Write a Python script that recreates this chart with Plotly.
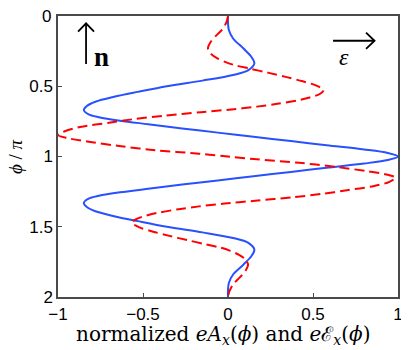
import plotly.graph_objects as go

# normalized vector potential e*A_x (blue, solid)
phi_A = [0.00, 0.05, 0.10, 0.16, 0.23, 0.29, 0.337, 0.385, 0.42, 0.46, 0.50, 0.54, 0.575,
         0.61, 0.64, 0.669, 0.70, 0.72, 0.745, 0.77, 0.80, 0.83, 0.86, 0.89, 0.92, 0.95,
         0.975, 1.00, 1.025, 1.05, 1.08, 1.11, 1.14, 1.17, 1.20, 1.23, 1.255, 1.28, 1.30,
         1.331, 1.36, 1.39, 1.425, 1.46, 1.50, 1.54, 1.58, 1.615, 1.663, 1.71, 1.77, 1.84,
         1.90, 1.95, 2.00]
eA_x = [0.000, 0.000, 0.005, 0.03, 0.09, 0.137, 0.155, 0.12, 0.03, -0.15, -0.36, -0.53, -0.67,
        -0.78, -0.83, -0.848, -0.82, -0.76, -0.635, -0.47, -0.27, -0.06, 0.15, 0.37, 0.58, 0.80,
        0.94, 1.00, 0.94, 0.80, 0.58, 0.37, 0.15, -0.06, -0.27, -0.47, -0.635, -0.76, -0.82,
        -0.848, -0.83, -0.78, -0.67, -0.53, -0.36, -0.15, 0.03, 0.12, 0.155, 0.137, 0.09, 0.03,
        0.005, 0.000, 0.000]

# normalized electric field e*E_x (red, dashed)
phi_E = [0.00, 0.04, 0.09, 0.14, 0.19, 0.23, 0.27, 0.30, 0.33, 0.35, 0.375, 0.405, 0.435,
         0.465, 0.495, 0.527, 0.555, 0.58, 0.60, 0.625, 0.645, 0.665, 0.685, 0.71, 0.735,
         0.76, 0.79, 0.82, 0.847, 0.87, 0.895, 0.925, 0.955, 0.98, 1.00,
         1.02, 1.045, 1.075, 1.105, 1.13, 1.15, 1.18, 1.21, 1.24, 1.265, 1.29, 1.315, 1.335,
         1.355, 1.375, 1.40, 1.42, 1.445, 1.47, 1.505, 1.535, 1.565, 1.595, 1.625, 1.65,
         1.67, 1.70, 1.73, 1.77, 1.81, 1.86, 1.91, 1.96, 2.00]
eE_x = [0.0, -0.008, -0.03, -0.07, -0.105, -0.118, -0.10, -0.065, -0.01, 0.04, 0.13, 0.24, 0.345,
        0.44, 0.52, 0.562, 0.54, 0.48, 0.41, 0.29, 0.17, 0.02, -0.16, -0.38, -0.56,
        -0.70, -0.87, -0.96, -1.0, -0.94, -0.82, -0.64, -0.43, -0.17, 0.0,
        0.17, 0.42, 0.64, 0.82, 0.94, 0.985, 0.95, 0.86, 0.70, 0.56, 0.38, 0.16, -0.02,
        -0.17, -0.29, -0.41, -0.48, -0.54, -0.565, -0.52, -0.44, -0.345, -0.24, -0.13, -0.04,
        0.01, 0.065, 0.10, 0.118, 0.105, 0.07, 0.03, 0.008, 0.0]

x_ticks = [-1, -0.5, 0, 0.5, 1]
x_labels = ["\u22121", "\u22120.5", "0", "0.5", "1"]
y_ticks = [0, 0.5, 1, 1.5, 2]
y_labels = ["0", "0.5", "1", "1.5", "2"]

fig = go.Figure()
fig.add_trace(go.Scatter(x=eA_x, y=phi_A, mode="lines",
                         line=dict(color="rgb(40,80,255)", width=2, shape="spline", smoothing=0.9)))
fig.add_trace(go.Scatter(x=eE_x, y=phi_E, mode="lines",
                         line=dict(color="rgb(255,0,0)", width=2, dash="10px,5px",
                                   shape="spline", smoothing=0.9)))

tick_font = dict(family="Liberation Sans", size=17, color="black")
axis_style = dict(showgrid=False, zeroline=False, showline=True, mirror=True, automargin=False,
                  linecolor="#4a4a4a", linewidth=1.5, ticks="inside", ticklen=4,
                  tickcolor="#4a4a4a", tickfont=tick_font)

fig.update_xaxes(range=[-1, 1], tickvals=x_ticks, ticktext=x_labels, ticklabelstandoff=1, **axis_style)
# the top "0" label sits too close to the page edge for plotly to keep it, so it is an annotation
fig.update_yaxes(range=[2, 0], tickvals=y_ticks, ticktext=[""] + y_labels[1:], **axis_style)
fig.add_annotation(x=0, y=y_ticks[0], xref="paper", yref="y", xanchor="right", yanchor="middle",
                   xshift=-5, showarrow=False, text=y_labels[0], font=tick_font)

# direction arrows (n up, epsilon right)
arrows = [
    "M -0.835 0.342 L -0.835 0.052",
    "M -0.882 0.112 L -0.835 0.052 L -0.788 0.112",
    "M 0.618 0.176 L 0.862 0.176",
    "M 0.812 0.118 L 0.862 0.176 L 0.812 0.234",
]
for p in arrows:
    fig.add_shape(type="path", path=p, xref="x", yref="y",
                  line=dict(color="black", width=1.8))

serif = "Liberation Serif"
fig.add_annotation(x=-0.745, y=0.29, xref="x", yref="y", showarrow=False,
                   text="<b>n</b>", font=dict(family=serif, size=27, color="black"))
fig.add_annotation(x=0.68, y=0.29, xref="x", yref="y", showarrow=False,
                   text="<i>\u03b5</i>", font=dict(family=serif, size=24, color="black"))

# axis titles, placed in pixel terms as fractions of the 340x281 plot area
fig.add_annotation(x=-43 / 340, y=(297 - 157) / 281, xref="paper", yref="paper",
                   xanchor="center", yanchor="middle", showarrow=False, textangle=-90,
                   text="<i>\u03d5</i> / <i>\u03c0</i>", font=dict(family=serif, size=19, color="black"))
fig.add_annotation(x=(223 - 58) / 340, y=-(335 - 297) / 281, xref="paper", yref="paper",
                   xanchor="center", yanchor="middle", showarrow=False,
                   text="normalized <i>eA</i><sub><i>x</i></sub>(<i>\u03d5</i>) and "
                        "<i>e</i>\u2130<sub><i>x</i></sub>(<i>\u03d5</i>)",
                   font=dict(family="DejaVu Serif", size=20, color="black"))

# the page body has an 8px margin, so the figure is sized to fit inside the window
fig.update_layout(width=401, height=342, margin=dict(l=50, r=11, t=8, b=53),
                  plot_bgcolor="white", paper_bgcolor="white", showlegend=False)

fig.write_html("out.html")
